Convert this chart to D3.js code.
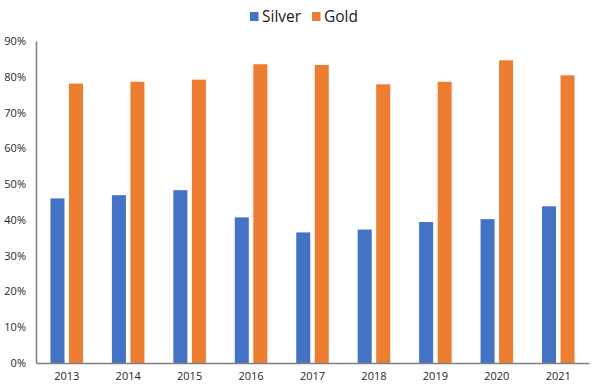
<!DOCTYPE html>
<html>
<head>
<meta charset="utf-8">
<script src="https://cdn.jsdelivr.net/npm/d3@7"></script>
<style>
  body { margin: 0; background: #fff; }
  text { font-family: "Open Sans", "Noto Sans", sans-serif; }
</style>
</head>
<body>
<svg id="chart" width="600" height="391"></svg>
<script>
var years = ["2013", "2014", "2015", "2016", "2017", "2018", "2019", "2020", "2021"];
var series = ["Silver", "Gold"];
var silver = [46.0, 46.9, 48.3, 40.7, 36.5, 37.3, 39.4, 40.2, 43.8];
var gold = [78.1, 78.6, 79.2, 83.5, 83.3, 77.9, 78.6, 84.6, 80.4];
var yTicks = [0, 10, 20, 30, 40, 50, 60, 70, 80, 90];
var colours = ["#4472C4", "#ED7D31"];

var margin = {top: 41, right: 11, bottom: 28, left: 36};
var width = 600 - margin.left - margin.right;
var height = 391 - margin.top - margin.bottom;

var svg = d3.select("#chart");
var g = svg.append("g")
  .attr("transform", "translate(" + margin.left + "," + margin.top + ")");

var x = d3.scaleBand().domain(years).range([0, width]).padding(0);
var x1 = d3.scaleBand().domain(series).range([0, x.bandwidth()])
  .paddingInner(0.243).paddingOuter(0.78);
var y = d3.scaleLinear().domain([0, 90]).range([height, 0]);
var colour = d3.scaleOrdinal().domain(series).range(colours);

// bars
var rows = years.map(function(yr, i) { return {year: yr, Silver: silver[i], Gold: gold[i]}; });
g.append("g").selectAll("g")
  .data(rows)
  .enter().append("g")
  .attr("transform", function(d) { return "translate(" + x(d.year) + ",0)"; })
  .selectAll("rect")
  .data(function(d) { return series.map(function(s) { return {key: s, value: d[s]}; }); })
  .enter().append("rect")
  .attr("x", function(d) { return x1(d.key); })
  .attr("y", function(d) { return y(d.value); })
  .attr("width", x1.bandwidth())
  .attr("height", function(d) { return y(0) - y(d.value); })
  .attr("fill", function(d) { return colour(d.key); });

// y axis
var yAxis = g.append("g")
  .call(d3.axisLeft(y).tickValues(yTicks).tickSize(0).tickPadding(10)
    .tickFormat(function(d) { return d + "%"; }));
yAxis.select(".domain").attr("stroke", "#7f7f7f").attr("stroke-width", 1.5);
yAxis.selectAll("text").attr("fill", "#262626").style("font-size", "11px");

// x axis
var xAxis = g.append("g")
  .attr("transform", "translate(0," + height + ")")
  .call(d3.axisBottom(x).tickSize(0).tickPadding(9));
xAxis.select(".domain").attr("stroke", "#7f7f7f").attr("stroke-width", 1.5);
xAxis.selectAll("text").attr("fill", "#262626").style("font-size", "11px");

// legend
var legend = svg.append("g");
var legendX = [250, 312];
series.forEach(function(s, i) {
  legend.append("rect")
    .attr("x", legendX[i]).attr("y", 12)
    .attr("width", 8.5).attr("height", 9)
    .attr("fill", colour(s));
  legend.append("text")
    .attr("x", legendX[i] + 12).attr("y", 16.5)
    .attr("dy", "0.35em")
    .attr("fill", "#1a1a1a")
    .style("font-size", "15.5px")
    .text(s);
});
</script>
</body>
</html>
